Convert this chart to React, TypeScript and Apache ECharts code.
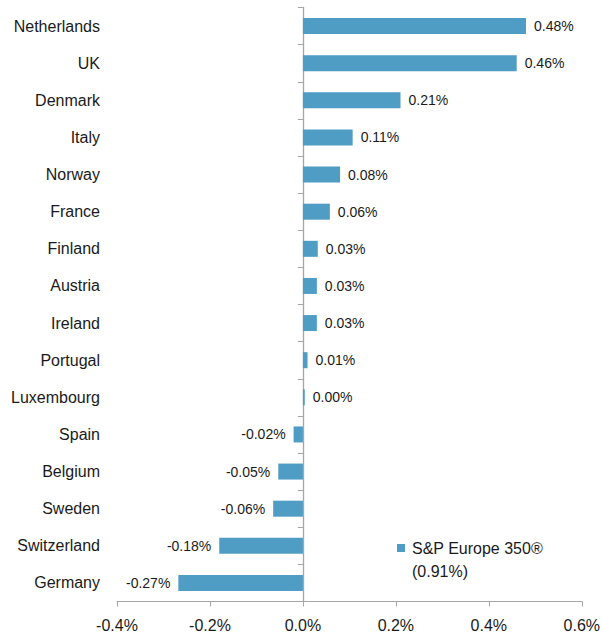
import React, { useEffect, useRef } from "react";
import * as echarts from "echarts";

const countries = [
  "Netherlands", "UK", "Denmark", "Italy", "Norway", "France", "Finland", "Austria",
  "Ireland", "Portugal", "Luxembourg", "Spain", "Belgium", "Sweden", "Switzerland", "Germany",
];
const contributions = [0.48, 0.46, 0.21, 0.107, 0.08, 0.058, 0.032, 0.03, 0.03, 0.01, 0.004, -0.02, -0.053, -0.064, -0.18, -0.268];
const seriesName = "S&P Europe 350®";
const totalLabel = "(0.91%)";
const xTicks = { min: -0.4, max: 0.6, interval: 0.2 };

const FONT = "'Liberation Sans', Arial, sans-serif";
const TXT = "#1a1a1a";
const BAR = "#4f9cc4";
const AXIS = "#a6a6a6";

export default function App() {
  const ref = useRef<HTMLDivElement>(null);
  useEffect(() => {
    document.body.style.margin = "0";
    const chart = echarts.init(ref.current!, null, { renderer: "svg" });
    chart.setOption({
      animation: false,
      textStyle: { fontFamily: FONT },
      grid: { left: 117, right: 16, top: 7.5, bottom: 32.5 },
      legend: {
        show: true,
        left: 397,
        top: 540,
        padding: 0,
        icon: "rect",
        itemWidth: 8,
        itemHeight: 8,
        itemGap: 0,
        textStyle: { fontFamily: FONT, fontSize: 16, color: TXT, padding: [0, 0, 0, 2] },
        data: [seriesName],
      },
      graphic: [
        {
          type: "text",
          left: 412,
          top: 563,
          style: { text: totalLabel, font: `16px ${FONT}`, fill: TXT },
        },
      ],
      xAxis: {
        type: "value",
        min: xTicks.min,
        max: xTicks.max,
        interval: xTicks.interval,
        splitLine: { show: false },
        axisLine: { show: true, onZero: false, lineStyle: { color: AXIS, width: 1 } },
        axisTick: { show: true, length: 5, lineStyle: { color: AXIS } },
        axisLabel: {
          fontSize: 16,
          color: TXT,
          margin: 16,
          formatter: (v: number) => `${v.toFixed(1)}%`,
        },
      },
      yAxis: [
        {
          type: "category",
          data: countries,
          inverse: true,
          axisLine: { show: false, onZero: false },
          axisTick: { show: false },
          axisLabel: { fontSize: 16, color: TXT, margin: 17 },
        },
        {
          type: "category",
          data: countries,
          inverse: true,
          position: "left",
          axisLine: { show: true, onZero: true, lineStyle: { color: AXIS, width: 1.3 } },
          axisTick: { show: true, length: 5, lineStyle: { color: AXIS } },
          axisLabel: { show: false },
        },
      ],
      series: [
        {
          name: seriesName,
          type: "bar",
          yAxisIndex: 0,
          barWidth: 16,
          itemStyle: { color: BAR },
          data: contributions.map((v) => ({
            value: v,
            label: {
              show: true,
              position: v >= 0 ? "right" : "left",
              distance: 8,
              fontSize: 14,
              color: TXT,
              formatter: `${v.toFixed(2)}%`,
            },
          })),
        },
      ],
    });
    return () => chart.dispose();
  }, []);
  return (
    <div
      ref={ref}
      style={{ position: "absolute", left: 0, top: 0, width: 603, height: 634 }}
    />
  );
}
